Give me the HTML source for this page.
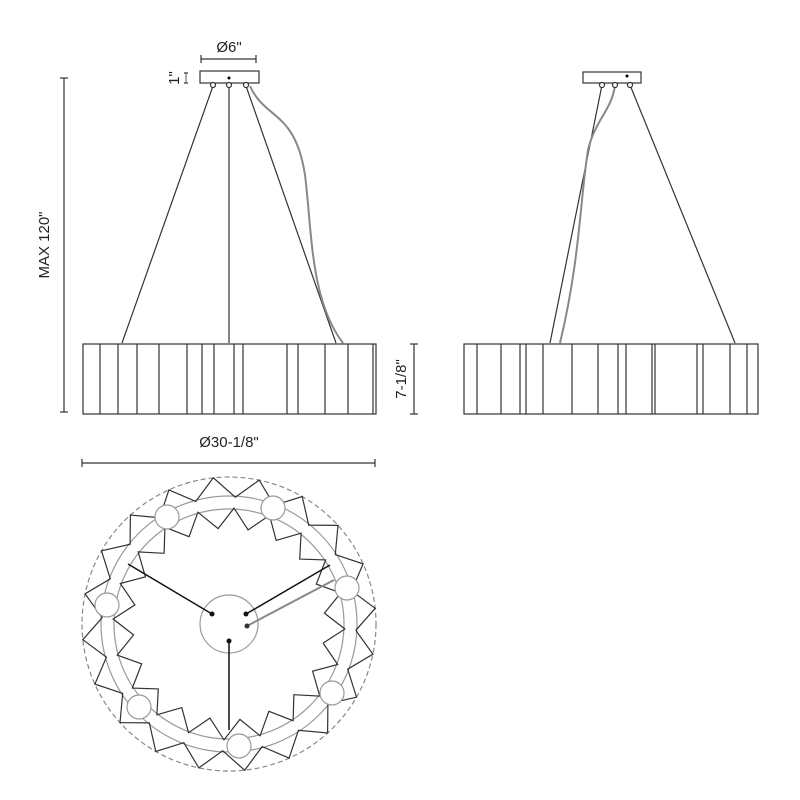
<!DOCTYPE html>
<html><head><meta charset="utf-8"><style>
html,body{margin:0;padding:0;background:#fff;}
svg{display:block;}
text{font-family:"Liberation Sans",Arial,sans-serif;fill:#222;}
</style></head><body>
<svg id="s" width="800" height="800" viewBox="0 0 800 800" xmlns="http://www.w3.org/2000/svg">
<g stroke="#333" fill="none" stroke-width="1.2">
<line x1="64" y1="78" x2="64" y2="412"/>
<line x1="60" y1="78" x2="68" y2="78"/><line x1="60" y1="412" x2="68" y2="412"/>
<line x1="201" y1="59" x2="256" y2="59"/><line x1="201" y1="55" x2="201" y2="63"/><line x1="256" y1="55" x2="256" y2="63"/>
<line x1="186" y1="73" x2="186" y2="83" stroke-width="0.8"/><line x1="184" y1="73" x2="188" y2="73"/><line x1="184" y1="83" x2="188" y2="83"/>
<rect x="200" y="71" width="59" height="12" fill="#fff"/>
<line x1="213" y1="86" x2="122" y2="343"/>
<line x1="229" y1="86" x2="229" y2="343"/>
<line x1="246" y1="86" x2="336" y2="343"/>
<path d="M250 86 C 265 120, 295 110, 305 175 C 312 230, 310 300, 343 343" stroke="#888" stroke-width="2"/>
<circle cx="213" cy="85" r="2.5" fill="#fff"/><circle cx="229" cy="85" r="2.5" fill="#fff"/><circle cx="246" cy="85" r="2.5" fill="#fff"/>
<rect x="83" y="344" width="293" height="70" fill="none"/>
<line x1="414" y1="344" x2="414" y2="414"/><line x1="410" y1="344" x2="418" y2="344"/><line x1="410" y1="414" x2="418" y2="414"/>
<line x1="82" y1="463" x2="375" y2="463"/><line x1="82" y1="459" x2="82" y2="467"/><line x1="375" y1="459" x2="375" y2="467"/>
<rect x="583" y="72" width="58" height="11"/>
<line x1="602" y1="85" x2="550" y2="343"/>
<line x1="630" y1="85" x2="735" y2="343"/>
<path d="M615 85 C 612 110, 595 120, 588 150 C 580 200, 580 260, 560 343" stroke="#888" stroke-width="2"/>
<circle cx="602" cy="85" r="2.5" fill="#fff"/><circle cx="615" cy="85" r="2.5" fill="#fff"/><circle cx="630" cy="85" r="2.5" fill="#fff"/>
<rect x="464" y="344" width="294" height="70"/>
</g>
<circle cx="229" cy="78" r="1.5" fill="#000"/><circle cx="627" cy="76" r="1.5" fill="#000"/>
<g id="lines" stroke="#333" stroke-width="1.2"></g>
<text x="229" y="52" font-size="15" text-anchor="middle">Ø6"</text>
<text x="229" y="447" font-size="15" text-anchor="middle">Ø30-1/8"</text>
<text transform="translate(49,245) rotate(-90)" font-size="15" text-anchor="middle">MAX 120"</text>
<text transform="translate(406,379) rotate(-90)" font-size="15" text-anchor="middle">7-1/8"</text>
<text transform="translate(179,78) rotate(-90)" font-size="15" text-anchor="middle">1"</text>
<circle cx="229" cy="624" r="147" fill="none" stroke="#888" stroke-width="1.2" stroke-dasharray="5,3"/>
<circle cx="229" cy="624" r="128" fill="none" stroke="#999" stroke-width="1.2"/>
<circle cx="229" cy="624" r="115" fill="none" stroke="#999" stroke-width="1.2"/>
<g id="zig" fill="none" stroke="#333" stroke-width="1.2"></g>
<g id="lamps" fill="#fff" stroke="#999" stroke-width="1.2"></g>
<circle cx="229" cy="624" r="29" fill="#fff" stroke="#999" stroke-width="1.2"/>
<g stroke="#111" stroke-width="1.5">
<line x1="212" y1="614" x2="128" y2="564"/>
<line x1="246" y1="614" x2="330" y2="565"/>
<line x1="229" y1="641" x2="229" y2="730"/>
</g>
<line x1="247" y1="626" x2="334" y2="580" stroke="#888" stroke-width="2"/>
<circle cx="212" cy="614" r="2.5" fill="#111"/><circle cx="246" cy="614" r="2.5" fill="#111"/><circle cx="247" cy="626" r="2.5" fill="#333"/><circle cx="229" cy="641" r="2.5" fill="#111"/>
</svg>
<script>
var ns="http://www.w3.org/2000/svg";
function L(g,x1){var l=document.createElementNS(ns,"line");l.setAttribute("x1",x1);l.setAttribute("y1",344);l.setAttribute("x2",x1);l.setAttribute("y2",414);g.appendChild(l);}
var g=document.getElementById("lines");
[100,118,137,159,187,202,214,234,243,287,298,325,348,373].forEach(function(x){L(g,x)});
[477,501,520,526,543,572,598,618,626,652,655,697,703,730,747].forEach(function(x){L(g,x)});
var z=document.getElementById("zig");
function zig(r1,r2,n,off){var p=[];for(var i=0;i<=2*n;i++){var a=off+i*Math.PI/n;var r=i%2?r2:r1;p.push((229+r*Math.cos(a)).toFixed(1)+","+(624+r*Math.sin(a)).toFixed(1));}
var e=document.createElementNS(ns,"polyline");e.setAttribute("points",p.join(" "));z.appendChild(e);}
zig(127,147,20,0.05);
zig(96,116,20,0.2);
var lp=document.getElementById("lamps");
[[167,517],[273,508],[347,588],[107,605],[332,693],[139,707],[239,746]].forEach(function(c){var e=document.createElementNS(ns,"circle");e.setAttribute("cx",c[0]);e.setAttribute("cy",c[1]);e.setAttribute("r",12);lp.appendChild(e);});
</script>
</body></html>
